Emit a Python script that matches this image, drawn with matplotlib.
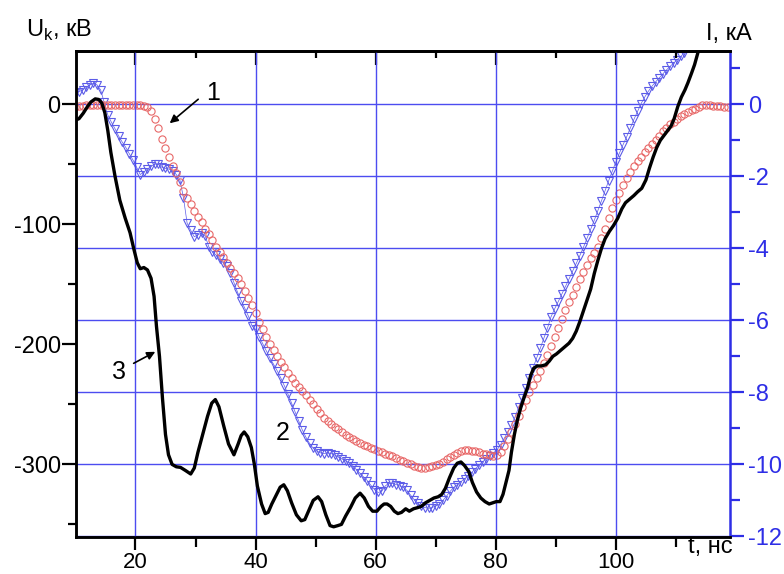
import numpy as np
import matplotlib
matplotlib.use("Agg")
import matplotlib.pyplot as plt
from matplotlib.ticker import MultipleLocator

plt.rcParams['font.family'] = ['Liberation Sans', 'DejaVu Sans']
plt.rcParams['axes.unicode_minus'] = False

# ---------------- data ----------------
# curve 1 (red circles), current, kA ; sampled every 0.6 ns from 10.0 ns
t1_start, t1_step = 10.0, 0.6
I1 = [-0.08, -0.06, -0.05, -0.03, -0.02, -0.02, -0.03, -0.02, -0.03, -0.02,
      -0.03, -0.02, -0.03, -0.02, -0.03, -0.02, -0.02, -0.02, -0.03, -0.04,
      -0.08, -0.2, -0.42, -0.65, -0.95, -1.2, -1.45, -1.7, -1.92, -2.15,
      -2.4, -2.6, -2.78, -2.97, -3.12, -3.28, -3.45, -3.6, -3.78, -3.95,
      -4.1, -4.25, -4.4, -4.55, -4.68, -4.83, -5.0, -5.18, -5.38, -5.57,
      -5.8, -6.05, -6.25, -6.45, -6.65, -6.83, -7.0, -7.15, -7.3, -7.45,
      -7.6, -7.73, -7.85, -7.97, -8.08, -8.2, -8.32, -8.45, -8.58, -8.7,
      -8.8, -8.88, -8.95, -9.02, -9.1, -9.18, -9.25, -9.3, -9.35, -9.4,
      -9.45, -9.5, -9.55, -9.58, -9.62, -9.66, -9.7, -9.74, -9.78, -9.83,
      -9.87, -9.9, -9.95, -10.0, -10.05, -10.08, -10.1, -10.1, -10.07, -10.05,
      -10.03, -9.98, -9.92, -9.86, -9.8, -9.74, -9.68, -9.62, -9.6, -9.6,
      -9.62, -9.64, -9.66, -9.7, -9.72, -9.75, -9.78, -9.75, -9.65, -9.5,
      -9.3, -9.1, -8.88, -8.65, -8.42, -8.2, -8.0, -7.8, -7.6, -7.4,
      -7.18, -6.95, -6.7, -6.45, -6.2, -5.95, -5.72, -5.5, -5.3, -5.08,
      -4.85, -4.65, -4.45, -4.28, -4.12, -3.95, -3.72, -3.45, -3.15, -2.88,
      -2.65, -2.45, -2.25, -2.05, -1.88, -1.72, -1.58, -1.45, -1.33, -1.22,
      -1.1, -0.98, -0.87, -0.75, -0.65, -0.56, -0.48, -0.4, -0.33, -0.27,
      -0.22, -0.17, -0.12, -0.07, -0.03, -0.01, -0.02, -0.05, -0.06, -0.06,
      -0.07, -0.07]

# curve 2 (blue triangles), current, kA ; sampled every 0.6 ns from 10.0 ns
t2_start, t2_step = 10.0, 0.6
I2 = [0.3, 0.35, 0.4, 0.47, 0.54, 0.58, 0.54, 0.4, 0.05, -0.3,
      -0.5, -0.68, -0.88, -1.05, -1.2, -1.38, -1.55, -1.75, -1.95, -1.88,
      -1.8, -1.72, -1.66, -1.66, -1.75, -1.78, -1.8, -1.85, -1.95, -2.1,
      -2.6, -3.3, -3.5, -3.68, -3.62, -3.58, -3.65, -3.95, -4.1, -4.18,
      -4.3, -4.4, -4.5, -4.69, -4.95, -5.22, -5.45, -5.66, -5.88, -6.15,
      -6.25, -6.45, -6.65, -6.85, -7.05, -7.22, -7.4, -7.6, -7.82, -8.05,
      -8.3, -8.55, -8.8, -9.05, -9.25, -9.42, -9.55, -9.63, -9.68, -9.7,
      -9.68, -9.7, -9.74, -9.8, -9.85, -9.9, -9.96, -10.05, -10.15, -10.25,
      -10.35, -10.45, -10.58, -10.7, -10.78, -10.75, -10.6, -10.52, -10.53, -10.56,
      -10.6, -10.64, -10.72, -10.85, -10.98, -11.08, -11.16, -11.2, -11.22, -11.2,
      -11.15, -11.1, -11.0, -10.88, -10.75, -10.64, -10.56, -10.48, -10.4, -10.32,
      -10.22, -10.12, -10.02, -9.93, -9.84, -9.76, -9.68, -9.6, -9.45, -9.28,
      -9.1, -8.92, -8.68, -8.42, -8.15, -7.88, -7.6, -7.32, -7.05, -6.78,
      -6.5, -6.22, -5.9, -5.68, -5.48, -5.27, -5.06, -4.85, -4.63, -4.42,
      -4.2, -3.97, -3.72, -3.47, -3.22, -2.95, -2.68, -2.4, -2.12, -1.86,
      -1.6, -1.35, -1.12, -0.9, -0.66, -0.42, -0.2, 0.02, 0.2, 0.36,
      0.5, 0.62, 0.73, 0.84, 0.95, 1.05, 1.14, 1.24, 1.33, 1.43]

# curve 3 (black line), voltage, kV
t3 = [10.1, 10.6, 11.3, 12.0, 12.6, 13.3, 13.9, 14.4, 14.9, 15.4,
      15.9, 16.6, 17.4, 18.3, 19.1, 19.7, 20.3, 20.8, 21.4, 22.0,
      22.6, 23.1, 23.5, 24.0, 24.5, 25.0, 25.5, 26.1, 26.8, 27.5,
      28.3, 29.2, 29.8, 30.4, 31.2, 32.0, 32.7, 33.3, 33.9, 34.7,
      35.5, 36.4, 37.1, 37.6, 38.1, 38.7, 39.3, 39.8, 40.3, 41.0,
      41.6, 42.1, 42.7, 43.5, 44.1, 44.7, 45.3, 46.0, 46.8, 47.6,
      48.2, 48.9, 49.6, 50.4, 51.0, 51.7, 52.4, 53.0, 53.7, 54.3,
      55.0, 55.8, 56.6, 57.4, 58.1, 58.8, 59.5, 60.2, 60.9, 61.4,
      61.9, 62.5, 63.1, 63.7, 64.3, 65.0, 65.6, 66.3, 67.0, 67.6,
      68.3, 69.0, 69.7, 70.4, 71.0, 71.6, 72.3, 73.0, 73.6, 74.2,
      74.8, 75.5, 76.1, 76.8, 77.5, 78.2, 78.9, 79.5, 80.1, 80.7,
      81.2, 81.7, 82.2, 82.6, 83.1, 83.6, 84.2, 84.8, 85.3, 85.8,
      86.3, 86.9, 87.6, 88.3, 88.9, 89.5, 90.1, 90.8, 91.5, 92.2,
      92.8, 93.4, 94.0, 94.6, 95.2, 95.8, 96.4, 97.0, 97.6, 98.2,
      98.9, 99.6, 100.3, 101.0, 101.6, 102.3, 103.0, 103.6, 104.3, 105.0,
      105.6, 106.2, 106.8, 107.4, 108.0, 108.6, 109.2, 109.7, 110.3, 110.9,
      111.5, 112.0, 112.6, 113.1, 113.6, 114.0]
U3 = [-13, -12, -7.5, -2, 2, 4.5, 4, 1, -7, -22,
      -40, -60, -80, -95, -107, -120, -132, -137, -136, -138,
      -145, -160, -185, -210, -245, -275, -292, -300, -302, -302.5,
      -305, -308, -303, -290, -275, -260, -249, -246, -252, -268,
      -283, -292, -283, -276, -273, -277, -286, -300, -318, -333,
      -341, -340, -333, -325, -319, -317, -322, -332, -342, -347,
      -346, -338, -330, -327, -331, -342, -351, -352, -351, -350,
      -343, -336, -328, -324, -328, -335, -339, -339, -335, -333,
      -333, -335, -339, -341, -340, -337, -339, -337, -336, -335,
      -332, -330, -328, -327, -325, -320, -311, -303, -299, -298,
      -301, -306, -315, -323, -328, -331, -333, -332, -331, -331,
      -325, -315, -305, -290, -275, -263, -252, -243, -236, -226,
      -220, -218, -218, -217, -214, -210, -208, -205, -202, -199,
      -195, -189, -181, -172, -163, -154, -141, -130, -120, -112,
      -106, -101, -95, -87, -82, -79, -76, -73, -70, -63,
      -53, -44, -36, -30, -26, -22, -18, -12, -2, 6,
      12, 18, 26, 33, 42, 50]

x_ticks = [20, 40, 60, 80, 100]
u_ticks = [0, -100, -200, -300]
i_ticks = [0, -2, -4, -6, -8, -10, -12]

# ---------------- style ----------------
RED = '#e86868'
BLUE = '#5c5ce8'
GRID = '#4c4cf0'
BLUE_AX = '#2e2ee6'
FS = 17

fig = plt.figure(figsize=(7.84, 5.74), dpi=100)
ax = fig.add_axes([76/784, 1-537/574, (730-76)/784, (537-51)/574])
ax2 = ax.twinx()

ax.set_xlim(10.1, 119.0)
ax.set_ylim(-360.5, 44.4)
ax2.set_ylim(-360.5/30, 44.4/30)

t1 = t1_start + t1_step*np.arange(len(I1))
t2 = t2_start + t2_step*np.arange(len(I2))

# horizontal grid from the current axis, vertical grid from the main axis
ax2.yaxis.set_minor_locator(MultipleLocator(1))
ax2.set_yticks(i_ticks)
ax2.grid(True, axis='y', color=GRID, lw=1.0)
ax2.set_axisbelow(True)

ax2.plot(t2, I2, color=BLUE, lw=0.5, marker='v', ms=5.6, mfc='none',
         mec=BLUE, mew=0.8)
ax2.plot(t1, I1, color=RED, lw=0.0, marker='o', ms=5.2, mfc='none',
         mec=RED, mew=0.8)

ax.set_zorder(ax2.get_zorder()+1)
ax.patch.set_visible(False)
ax.set_xticks(x_ticks)
ax.xaxis.set_minor_locator(MultipleLocator(10))
ax.set_yticks(u_ticks)
ax.yaxis.set_minor_locator(MultipleLocator(50))
ax.grid(True, axis='x', color=GRID, lw=1.0)
ax.plot(t3, U3, color='black', lw=2.4, solid_joinstyle='round')

# spines and ticks
for s in ['left', 'top', 'bottom']:
    ax.spines[s].set_linewidth(1.8)
    ax2.spines[s].set_linewidth(1.8)
ax.spines['right'].set_visible(False)
ax2.spines['right'].set_color(BLUE_AX)
ax2.spines['right'].set_linewidth(1.8)

ax.tick_params(axis='y', which='major', direction='out', length=10, width=1.6,
               labelsize=FS, pad=1.0)
ax.tick_params(axis='y', which='minor', direction='out', length=6, width=1.6)
ax.tick_params(axis='x', which='major', direction='out', length=9, width=1.6,
               labelsize=16, pad=1.5, top=False)
ax.tick_params(axis='x', which='minor', direction='out', length=7, width=1.6,
               top=False)

ax2.tick_params(axis='y', which='major', direction='out', length=10, width=1.6,
                labelsize=FS, pad=3, colors=BLUE_AX)
ax2.tick_params(axis='y', which='minor', direction='out', length=7, width=1.6,
                colors=BLUE_AX)

# top ticks point inward
secx = ax.secondary_xaxis('top')
secx.set_xticks(x_ticks)
secx.xaxis.set_minor_locator(MultipleLocator(10))
secx.tick_params(axis='x', which='major', direction='in', length=10, width=1.6,
                 labeltop=False)
secx.tick_params(axis='x', which='minor', direction='in', length=5, width=1.6)
secx.spines['top'].set_linewidth(1.8)

# axis titles
fig.text(26/784, 1-37/574, r'U$_{\mathregular{k}}$, кВ', fontsize=FS,
         ha='left', va='baseline')
fig.text(752/784, 1-40/574, 'I, кА', fontsize=FS, ha='right', va='baseline')
fig.text(733/784, 1-553/574, 't, нс', fontsize=FS, ha='right', va='baseline')

# curve annotations
arrow = dict(arrowstyle='-|>', color='black', lw=1.2, mutation_scale=12,
             shrinkA=0, shrinkB=0)
ax.annotate('', xy=(25.7, -15.8), xytext=(30.45, 4.2), arrowprops=arrow)
ax.text(32.95, 9.2, '1', fontsize=FS+1, ha='center', va='center')
ax.annotate('', xy=(23.3, -206.2), xytext=(19.7, -215.8), arrowprops=arrow)
ax.text(17.2, -222.8, '3', fontsize=FS+1, ha='center', va='center')
ax.text(44.45, -274.2, '2', fontsize=FS+1, ha='center', va='center')

fig.savefig('out.png', dpi=100)
